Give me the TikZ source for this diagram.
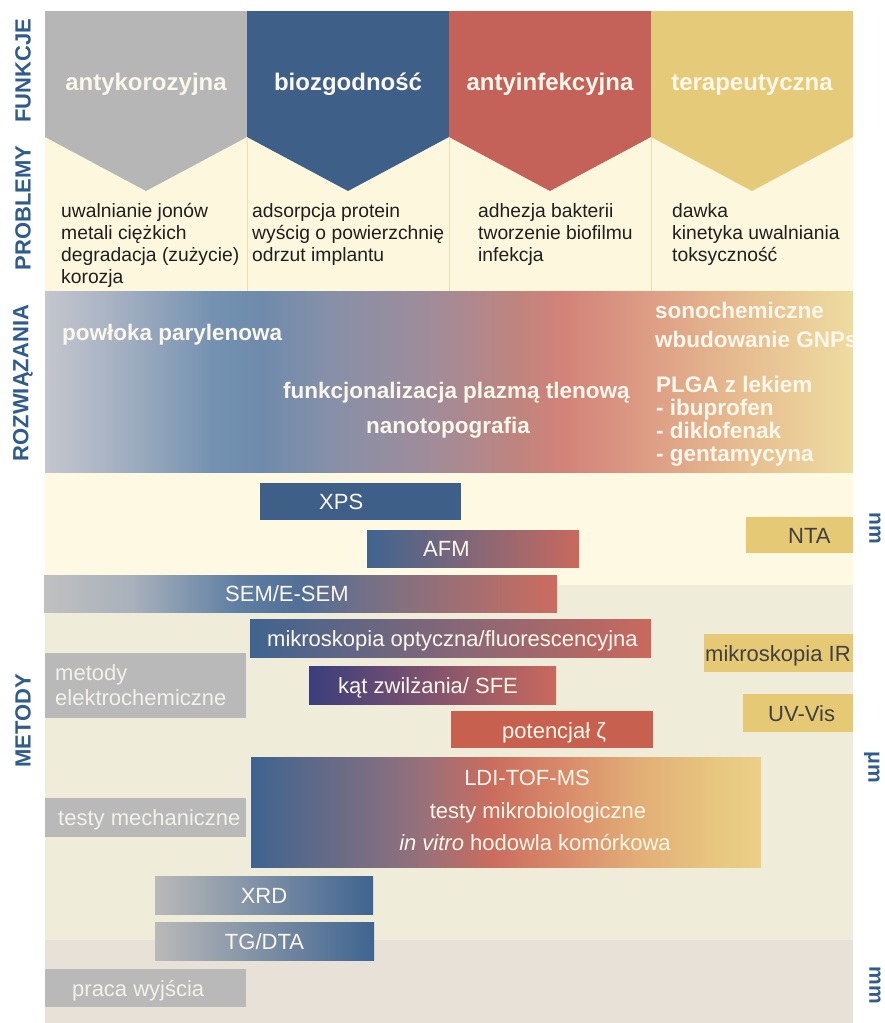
\documentclass[tikz,border=0pt]{standalone}
\usepackage{fontspec}
\setmainfont{Liberation Sans}
\usepackage{tikz}

\definecolor{grau}{HTML}{B6B6B6}
\definecolor{blau}{HTML}{3E5F88}
\definecolor{rot}{HTML}{C4625A}
\definecolor{gelb}{HTML}{E5CB79}
\definecolor{creme}{HTML}{FDF8DD}
\definecolor{nmband}{HTML}{FDF9E3}
\definecolor{umband}{HTML}{EFECDA}
\definecolor{mmband}{HTML}{E7E1D8}
\definecolor{titel}{HTML}{2F5C8B}
\definecolor{hell}{HTML}{FBF7EA}
\definecolor{hellgrau}{HTML}{F3F1EA}
\definecolor{dunkel}{HTML}{404040}
\definecolor{trenner}{HTML}{EEDFB2}
\definecolor{kastgrau}{HTML}{B9B9B9}
\definecolor{kastblau}{HTML}{3F6490}
\definecolor{kastrot}{HTML}{C9695E}
\definecolor{kastgelb}{HTML}{E6C975}
\definecolor{indigo}{HTML}{3A3E7C}
\definecolor{zeta}{HTML}{C8604F}

% colour stops of the solution band
\definecolor{ra}{HTML}{C5C6CE}
\definecolor{rb}{HTML}{A4B0C2}
\definecolor{rc}{HTML}{7391B0}
\definecolor{rd}{HTML}{6E8BAC}
\definecolor{re}{HTML}{8790A8}
\definecolor{rf}{HTML}{A08C9A}
\definecolor{rg}{HTML}{C0847E}
\definecolor{rh}{HTML}{D3837A}
\definecolor{ri}{HTML}{DC9A84}
\definecolor{rj}{HTML}{E6BC90}
\definecolor{rk}{HTML}{EEDCA0}
\pgfdeclarehorizontalshading{rozwshade}{100bp}{color(0bp)=(ra); color(25bp)=(ra);
  color(29.6bp)=(rb); color(35.5bp)=(rc); color(38.3bp)=(rd); color(42.7bp)=(re);
  color(48.8bp)=(rf); color(54.4bp)=(rg); color(57.2bp)=(rh); color(61.8bp)=(ri);
  color(68bp)=(rj); color(75bp)=(rk); color(100bp)=(rk)}

% colour stops of the LDI-TOF-MS block
\definecolor{la}{HTML}{3E6390}
\definecolor{lb}{HTML}{58688A}
\definecolor{lc}{HTML}{7E6E82}
\definecolor{ld}{HTML}{9C7078}
\definecolor{le}{HTML}{CA6C5E}
\definecolor{lf}{HTML}{D88A6A}
\definecolor{lg}{HTML}{E2AE76}
\definecolor{lh}{HTML}{E8C880}
\definecolor{li}{HTML}{EBD088}
\pgfdeclarehorizontalshading{ldishade}{100bp}{color(0bp)=(la); color(25bp)=(la);
  color(29.8bp)=(lb); color(37.5bp)=(lc); color(42.5bp)=(ld); color(48.5bp)=(le);
  color(55.5bp)=(lf); color(63bp)=(lg); color(71bp)=(lh); color(75bp)=(li);
  color(100bp)=(li)}

% colour stops of the SEM/E-SEM bar
\definecolor{sa}{HTML}{C0C0C0}
\definecolor{sb}{HTML}{A9B1BC}
\definecolor{sc}{HTML}{5E7EA2}
\definecolor{sd}{HTML}{526F96}
\definecolor{se}{HTML}{85707F}
\definecolor{sf}{HTML}{CC6C5F}
\pgfdeclarehorizontalshading{semshade}{100bp}{color(0bp)=(sa); color(25bp)=(sa);
  color(33.5bp)=(sb); color(44bp)=(sc); color(50bp)=(sd); color(60bp)=(se);
  color(75bp)=(sf); color(100bp)=(sf)}

\begin{document}
\begin{tikzpicture}[x=1pt,y=-1pt]
        \tikzset{funktext/.style = {anchor=base,text=hell,font=\fontsize{24}{28}\selectfont\bfseries}};
        \tikzset{problem/.style = {anchor=north west,inner sep=0pt,align=left,text=black!88,font=\fontsize{19.3}{22}\selectfont}};
        \tikzset{loesung/.style = {anchor=base west,inner sep=0pt,text=hell,font=\fontsize{22.5}{24}\selectfont\bfseries}};
        \tikzset{seite/.style = {rotate=90,text=titel,font=\fontsize{22}{24}\selectfont\bfseries}};
        \tikzset{einheit/.style = {rotate=-90,text=titel,font=\fontsize{21}{24}\selectfont\bfseries}};
        \tikzset{kasten/.style = {rectangle,inner sep=0pt}};
        \tikzset{ktext/.style = {anchor=base west,inner sep=0pt,text=hell,font=\fontsize{22}{24}\selectfont}};
        \useasboundingbox (0,0) rectangle (884,1023);

        % functions and problems
        \fill[creme] (45,137) rectangle (853,291);
        \fill[grau] (45,11) -- (247,11) -- (247,137) -- (146,191) -- (45,137) -- cycle;
        \fill[blau] (247,11) -- (449,11) -- (449,137) -- (348,191) -- (247,137) -- cycle;
        \fill[rot]  (449,11) -- (651,11) -- (651,137) -- (550,191) -- (449,137) -- cycle;
        \fill[gelb] (651,11) -- (853,11) -- (853,137) -- (752,191) -- (651,137) -- cycle;
        \draw[trenner,line width=1pt] (247,137) -- (247,291);
        \draw[trenner,line width=1pt] (449,137) -- (449,291);
        \draw[trenner,line width=1pt] (651,137) -- (651,291);

        \node[funktext] (f1) at (146,90) {antykorozyjna};
        \node[funktext] (f2) at (348,90) {biozgodność};
        \node[funktext] (f3) at (550,90) {antyinfekcyjna};
        \node[funktext] (f4) at (752,90) {terapeutyczna};

        \node[problem] (p1) at (61,203) {uwalnianie jonów\\metali ciężkich\\degradacja (zużycie)\\korozja};
        \node[problem] (p2) at (252,203) {adsorpcja protein\\wyścig o powierzchnię\\odrzut implantu};
        \node[problem] (p3) at (478,203) {adhezja bakterii\\tworzenie biofilmu\\infekcja};
        \node[problem] (p4) at (672,203) {dawka\\kinetyka uwalniania\\toksyczność};

        % solutions
        \begin{scope}
        \clip (45,291) rectangle (853,473);
        \fill[shading=rozwshade] (45,291) rectangle (853,473);
        \node[loesung] (r1) at (62,340) {powłoka parylenowa};
        \node[loesung] (r2) at (283,398) {funkcjonalizacja plazmą tlenową};
        \node[loesung] (r3) at (366,433) {nanotopografia};
        \node[loesung] (r4) at (655,318) {sonochemiczne};
        \node[loesung] (r5) at (655,347) {wbudowanie GNPs};
        \node[loesung] (r6) at (656,392) {PLGA z lekiem};
        \node[loesung] (r7) at (656,415) {- ibuprofen};
        \node[loesung] (r8) at (656,438) {- diklofenak};
        \node[loesung] (r9) at (656,461) {- gentamycyna};
        \end{scope}

        % methods, by scale
        \fill[nmband] (45,473) rectangle (853,585);
        \fill[umband] (45,585) rectangle (853,940);
        \fill[mmband] (45,940) rectangle (853,1023);

        \node[kasten,fill=blau,minimum width=201pt,minimum height=37pt] (xps) at (360.5,501.5) {};
        \node[kasten,left color=kastblau,right color=kastrot,minimum width=212pt,minimum height=37pt] (afm) at (473,548.5) {};
        \node[kasten,fill=kastgelb,minimum width=107pt,minimum height=36pt] (nta) at (799.5,535) {};
        \node[kasten,shading=semshade,minimum width=513pt,minimum height=37pt] (sem) at (300.5,593.5) {};
        \node[kasten,left color=kastblau,right color=kastrot,minimum width=401pt,minimum height=38pt] (mikro) at (450.5,638) {};
        \node[kasten,fill=kastgelb,minimum width=149pt,minimum height=38pt] (ir) at (778.5,653) {};
        \node[kasten,fill=kastgrau,minimum width=201pt,minimum height=65pt] (elchem) at (145.5,685.5) {};
        \node[kasten,left color=indigo,right color=kastrot,minimum width=247pt,minimum height=38pt] (kat) at (432.5,685) {};
        \node[kasten,fill=kastgelb,minimum width=110pt,minimum height=38pt] (uvvis) at (798,713) {};
        \node[kasten,fill=zeta,minimum width=202pt,minimum height=37pt] (pot) at (552,729.5) {};
        \node[kasten,shading=ldishade,minimum width=510pt,minimum height=110pt] (ldi) at (506,812) {};
        \node[kasten,fill=kastgrau,minimum width=201pt,minimum height=39pt] (mech) at (145.5,817.5) {};
        \node[kasten,left color=kastgrau,middle color=kastgrau!55!kastblau,right color=kastblau,minimum width=218pt,minimum height=38pt] (xrd) at (264,895) {};
        \node[kasten,left color=kastgrau,middle color=kastgrau!55!kastblau,right color=kastblau,minimum width=219pt,minimum height=38pt] (tg) at (264.5,941) {};
        \node[kasten,fill=kastgrau,minimum width=201pt,minimum height=38pt] (praca) at (145.5,988) {};

        \node[ktext] (xps-t) at (319,509.5) {XPS};
        \node[ktext] (afm-t) at (423,556.5) {AFM};
        \node[ktext,text=dunkel] (nta-t) at (788,543) {NTA};
        \node[ktext] (sem-t) at (225,601.5) {SEM/E-SEM};
        \node[ktext] (mikro-t) at (267,646.5) {mikroskopia optyczna/fluorescencyjna};
        \node[ktext,text=dunkel] (ir-t) at (705,661) {mikroskopia IR};
        \node[ktext,text=hellgrau,align=left,anchor=north west] (elchem-t) at (55,664.5) {metody\\[1pt]elektrochemiczne};
        \node[ktext] (kat-t) at (338,693) {kąt zwilżania/ SFE};
        \node[ktext,text=dunkel] (uvvis-t) at (768,721) {UV-Vis};
        \node[ktext] (pot-t) at (502,738) {potencjał ζ};
        \node[ktext,anchor=base] (ldi-t1) at (527,785) {LDI-TOF-MS};
        \node[ktext,anchor=base] (ldi-t2) at (538,818) {testy mikrobiologiczne};
        \node[ktext,anchor=base] (ldi-t3) at (535,850) {{\itshape in vitro} hodowla komórkowa};
        \node[ktext,text=hellgrau] (mech-t) at (58,825.5) {testy mechaniczne};
        \node[ktext,anchor=base] (xrd-t) at (264,903) {XRD};
        \node[ktext,anchor=base] (tg-t) at (264.5,949) {TG/DTA};
        \node[ktext,text=hellgrau] (praca-t) at (72,996) {praca wyjścia};

        % row titles and scale marks
        \node[seite] (funkcje) at (23,71) {FUNKCJE};
        \node[seite] (problemy) at (23,208) {PROBLEMY};
        \node[seite] (rozw) at (23,383) {ROZWIĄZANIA};
        \node[seite] (metody) at (23,721) {METODY};
        \node[einheit] (nm) at (875,528) {nm};
        \node[einheit] (um) at (872,767) {μm};
        \node[einheit] (mm) at (875,985) {mm};
\end{tikzpicture}
\end{document}
